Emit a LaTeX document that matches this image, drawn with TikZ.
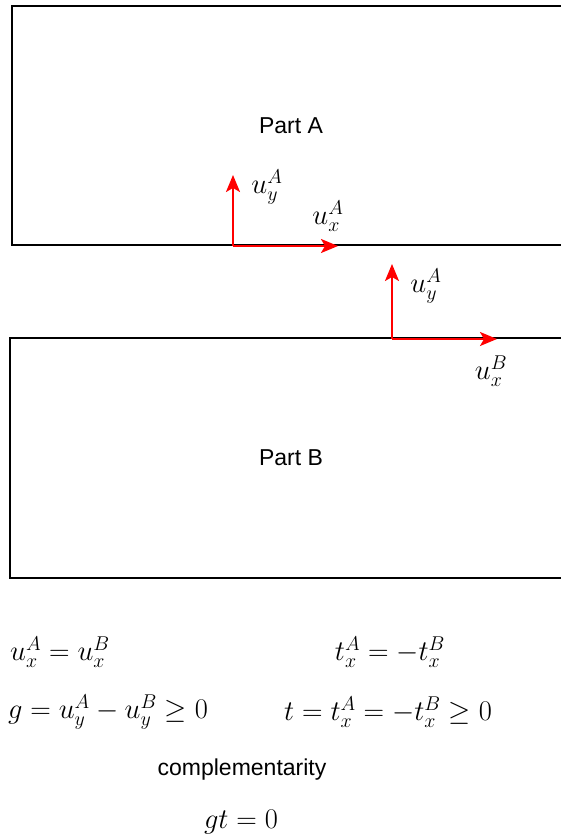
\documentclass[tikz,border=0pt]{standalone}
\usepackage{fix-cm}
\usepackage{fontspec}
\setmainfont{Liberation Sans}
\usepackage{amssymb}
\usepackage{tikz}
\usepackage{xcolor}
\usetikzlibrary{arrows.meta}

\newcommand{\ux}{u_x}
\newcommand{\uy}{u_y}
\newcommand{\tx}{t_x}

\begin{document}
\begin{tikzpicture}[x=1pt,y=-1pt,
    txt/.style={font=\fontsize{23}{27}\selectfont, inner sep=0pt},
    mth/.style={font=\fontsize{28.5}{33}\selectfont, inner sep=0pt},
    disp/.style={red, line width=2pt, -{Stealth[length=17pt,width=14pt,inset=4pt]}},
    part/.style={line width=1.4pt}]
    \useasboundingbox (0,0) rectangle (561,838);

    % the two parts
    \draw[part] (561,6) -- (12,6) -- (12,245) -- (561,245);
    \draw[part] (561,338) -- (10,338) -- (10,578) -- (561,578);
    \node[txt] (PA) at (291,126) {Part A};
    \node[txt] (PB) at (291,458) {Part B};

    % displacements of A
    \coordinate (OA) at (233,246);
    \coordinate (YA) at (233,175);
    \coordinate (XA) at (338,246);
    \draw[disp] (OA) -- (YA);
    \draw[disp] (OA) -- (XA);
    \node[mth] (uyA) at (267,187) {$\uy^A$};
    \node[mth] (uxA) at (328,216) {$\ux^A$};

    % displacements of B
    \coordinate (OB) at (392,339);
    \coordinate (YB) at (392,264);
    \coordinate (XB) at (497,339);
    \draw[disp] (OB) -- (YB);
    \draw[disp] (OB) -- (XB);
    \node[mth] (uyB) at (426,286) {$\uy^A$};
    \node[mth] (uxB) at (491,371) {$\ux^B$};

    % contact conditions
    \node[mth] (eq1) at (60,652) {$\ux^A=\ux^B$};
    \node[mth] (eq2) at (390,652) {$\tx^A=-\tx^B$};
    \node[mth] (eq3) at (108,712) {$g=\uy^A-\uy^B\geq 0$};
    \node[mth] (eq4) at (388,712) {$t=\tx^A=-\tx^B\geq 0$};
    \node[txt] (comp) at (242,770) {complementarity};
    \node[mth] (eq5) at (241,822) {$gt=0$};
\end{tikzpicture}
\end{document}
